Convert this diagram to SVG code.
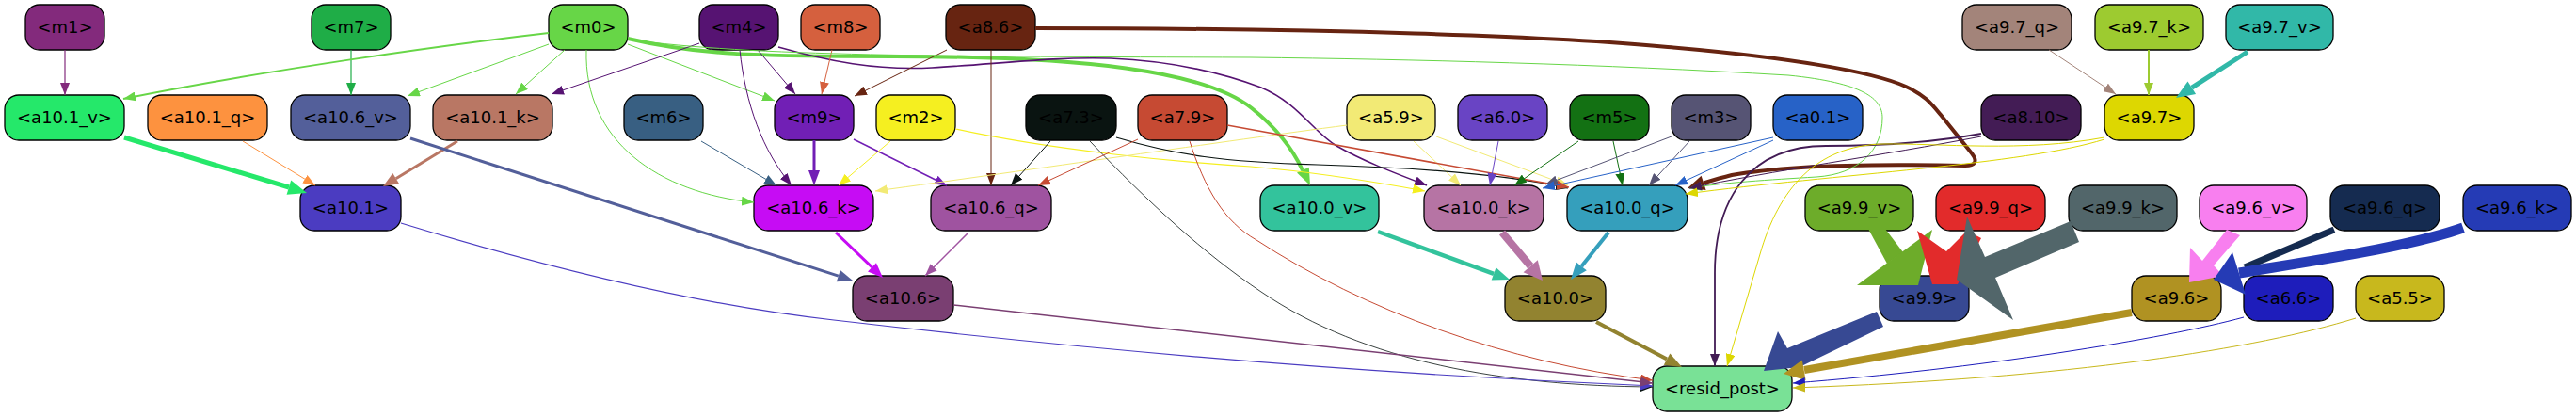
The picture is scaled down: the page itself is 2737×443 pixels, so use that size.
<svg xmlns="http://www.w3.org/2000/svg" width="2737" height="443" viewBox="0 0 2737 443">
<style>
.node rect{stroke:#000;stroke-width:1.3}
.node text{font-family:"DejaVu Sans",sans-serif;font-size:18px;text-anchor:middle;fill:#000}
.e{fill:none}
</style>
<defs>
<marker id="k1" markerUnits="userSpaceOnUse" markerWidth="13" markerHeight="10" refX="13" refY="5" orient="auto"><path d="M0,0L13,5L0,10z" fill="#832a7c"/></marker>
<marker id="k7" markerUnits="userSpaceOnUse" markerWidth="13" markerHeight="10" refX="13" refY="5" orient="auto"><path d="M0,0L13,5L0,10z" fill="#1fad47"/></marker>
<marker id="k0" markerUnits="userSpaceOnUse" markerWidth="13" markerHeight="10" refX="13" refY="5" orient="auto"><path d="M0,0L13,5L0,10z" fill="#67d647"/></marker>
<marker id="k4" markerUnits="userSpaceOnUse" markerWidth="13" markerHeight="10" refX="13" refY="5" orient="auto"><path d="M0,0L13,5L0,10z" fill="#561372"/></marker>
<marker id="k8" markerUnits="userSpaceOnUse" markerWidth="13" markerHeight="10" refX="13" refY="5" orient="auto"><path d="M0,0L13,5L0,10z" fill="#d5603e"/></marker>
<marker id="k86" markerUnits="userSpaceOnUse" markerWidth="13" markerHeight="10" refX="13" refY="5" orient="auto"><path d="M0,0L13,5L0,10z" fill="#672411"/></marker>
<marker id="k6" markerUnits="userSpaceOnUse" markerWidth="13" markerHeight="10" refX="13" refY="5" orient="auto"><path d="M0,0L13,5L0,10z" fill="#385f82"/></marker>
<marker id="k2" markerUnits="userSpaceOnUse" markerWidth="13" markerHeight="10" refX="13" refY="5" orient="auto"><path d="M0,0L13,5L0,10z" fill="#f5ef20"/></marker>
<marker id="k59" markerUnits="userSpaceOnUse" markerWidth="13" markerHeight="10" refX="13" refY="5" orient="auto"><path d="M0,0L13,5L0,10z" fill="#f2ea75"/></marker>
<marker id="k73" markerUnits="userSpaceOnUse" markerWidth="13" markerHeight="10" refX="13" refY="5" orient="auto"><path d="M0,0L13,5L0,10z" fill="#0a1411"/></marker>
<marker id="k79" markerUnits="userSpaceOnUse" markerWidth="13" markerHeight="10" refX="13" refY="5" orient="auto"><path d="M0,0L13,5L0,10z" fill="#c64a33"/></marker>
<marker id="k60" markerUnits="userSpaceOnUse" markerWidth="13" markerHeight="10" refX="13" refY="5" orient="auto"><path d="M0,0L13,5L0,10z" fill="#6944c4"/></marker>
<marker id="k5" markerUnits="userSpaceOnUse" markerWidth="13" markerHeight="10" refX="13" refY="5" orient="auto"><path d="M0,0L13,5L0,10z" fill="#137113"/></marker>
<marker id="k3" markerUnits="userSpaceOnUse" markerWidth="13" markerHeight="10" refX="13" refY="5" orient="auto"><path d="M0,0L13,5L0,10z" fill="#565474"/></marker>
<marker id="k01" markerUnits="userSpaceOnUse" markerWidth="13" markerHeight="10" refX="13" refY="5" orient="auto"><path d="M0,0L13,5L0,10z" fill="#2762c7"/></marker>
<marker id="k810" markerUnits="userSpaceOnUse" markerWidth="13" markerHeight="10" refX="13" refY="5" orient="auto"><path d="M0,0L13,5L0,10z" fill="#431c55"/></marker>
<marker id="k97" markerUnits="userSpaceOnUse" markerWidth="13" markerHeight="10" refX="13" refY="5" orient="auto"><path d="M0,0L13,5L0,10z" fill="#ddd701"/></marker>
<marker id="k97q" markerUnits="userSpaceOnUse" markerWidth="13" markerHeight="10" refX="13" refY="5" orient="auto"><path d="M0,0L13,5L0,10z" fill="#a3847a"/></marker>
<marker id="k97k" markerUnits="userSpaceOnUse" markerWidth="13" markerHeight="10" refX="13" refY="5" orient="auto"><path d="M0,0L13,5L0,10z" fill="#9dcb30"/></marker>
<marker id="k101q" markerUnits="userSpaceOnUse" markerWidth="13" markerHeight="10" refX="13" refY="5" orient="auto"><path d="M0,0L13,5L0,10z" fill="#fd923f"/></marker>
<marker id="k101" markerUnits="userSpaceOnUse" markerWidth="13" markerHeight="10" refX="13" refY="5" orient="auto"><path d="M0,0L13,5L0,10z" fill="#4b3cc1"/></marker>
<marker id="k106q" markerUnits="userSpaceOnUse" markerWidth="13" markerHeight="10" refX="13" refY="5" orient="auto"><path d="M0,0L13,5L0,10z" fill="#9f53a0"/></marker>
<marker id="k106" markerUnits="userSpaceOnUse" markerWidth="13" markerHeight="10" refX="13" refY="5" orient="auto"><path d="M0,0L13,5L0,10z" fill="#7a3f72"/></marker>
<marker id="k66" markerUnits="userSpaceOnUse" markerWidth="13" markerHeight="10" refX="13" refY="5" orient="auto"><path d="M0,0L13,5L0,10z" fill="#1e1dbb"/></marker>
<marker id="k55" markerUnits="userSpaceOnUse" markerWidth="13" markerHeight="10" refX="13" refY="5" orient="auto"><path d="M0,0L13,5L0,10z" fill="#c8b81d"/></marker>
<marker id="k9" markerUnits="userSpaceOnUse" markerWidth="13" markerHeight="10" refX="13" refY="5" orient="auto"><path d="M0,0L13,5L0,10z" fill="#711fb5"/></marker>
</defs>
<rect width="2737" height="443" fill="#fff"/>
<g id="nodes">
<g id="n-m1" class="node"><rect x="27" y="5" width="84" height="48" rx="15" fill="#832a7c"/><text x="69" y="35">&lt;m1&gt;</text></g>
<g id="n-m7" class="node"><rect x="331" y="5" width="84" height="48" rx="15" fill="#1fad47"/><text x="373" y="35">&lt;m7&gt;</text></g>
<g id="n-m0" class="node"><rect x="583" y="5" width="84" height="48" rx="15" fill="#67d647"/><text x="625" y="35">&lt;m0&gt;</text></g>
<g id="n-m4" class="node"><rect x="743" y="5" width="84" height="48" rx="15" fill="#561372"/><text x="785" y="35">&lt;m4&gt;</text></g>
<g id="n-m8" class="node"><rect x="851" y="5" width="84" height="48" rx="15" fill="#d5603e"/><text x="893" y="35">&lt;m8&gt;</text></g>
<g id="n-a8.6" class="node"><rect x="1005" y="5" width="95" height="48" rx="15" fill="#672411"/><text x="1052.5" y="35">&lt;a8.6&gt;</text></g>
<g id="n-a9.7_q" class="node"><rect x="2085" y="5" width="116" height="48" rx="15" fill="#a3847a"/><text x="2143" y="35">&lt;a9.7_q&gt;</text></g>
<g id="n-a9.7_k" class="node"><rect x="2226" y="5" width="115" height="48" rx="15" fill="#9dcb30"/><text x="2283.5" y="35">&lt;a9.7_k&gt;</text></g>
<g id="n-a9.7_v" class="node"><rect x="2365" y="5" width="114" height="48" rx="15" fill="#31b8a8"/><text x="2422" y="35">&lt;a9.7_v&gt;</text></g>

<g id="n-a10.1_v" class="node"><rect x="5" y="101" width="127" height="48" rx="15" fill="#25e86a"/><text x="68.5" y="131">&lt;a10.1_v&gt;</text></g>
<g id="n-a10.1_q" class="node"><rect x="157" y="101" width="127" height="48" rx="15" fill="#fd923f"/><text x="220.5" y="131">&lt;a10.1_q&gt;</text></g>
<g id="n-a10.6_v" class="node"><rect x="309" y="101" width="127" height="48" rx="15" fill="#535f9a"/><text x="372.5" y="131">&lt;a10.6_v&gt;</text></g>
<g id="n-a10.1_k" class="node"><rect x="460" y="101" width="127" height="48" rx="15" fill="#b97764"/><text x="523.5" y="131">&lt;a10.1_k&gt;</text></g>
<g id="n-m6" class="node"><rect x="663" y="101" width="84" height="48" rx="15" fill="#385f82"/><text x="705" y="131">&lt;m6&gt;</text></g>
<g id="n-m9" class="node"><rect x="823" y="101" width="84" height="48" rx="15" fill="#711fb5"/><text x="865" y="131">&lt;m9&gt;</text></g>
<g id="n-m2" class="node"><rect x="931" y="101" width="84" height="48" rx="15" fill="#f5ef20"/><text x="973" y="131">&lt;m2&gt;</text></g>
<g id="n-a7.3" class="node"><rect x="1090" y="101" width="96" height="48" rx="15" fill="#0a1411"/><text x="1138" y="131">&lt;a7.3&gt;</text></g>
<g id="n-a7.9" class="node"><rect x="1209" y="101" width="95" height="48" rx="15" fill="#c64a33"/><text x="1256.5" y="131">&lt;a7.9&gt;</text></g>
<g id="n-a5.9" class="node"><rect x="1431" y="101" width="94" height="48" rx="15" fill="#f2ea75"/><text x="1478" y="131">&lt;a5.9&gt;</text></g>
<g id="n-a6.0" class="node"><rect x="1549" y="101" width="95" height="48" rx="15" fill="#6944c4"/><text x="1596.5" y="131">&lt;a6.0&gt;</text></g>
<g id="n-m5" class="node"><rect x="1668" y="101" width="84" height="48" rx="15" fill="#137113"/><text x="1710" y="131">&lt;m5&gt;</text></g>
<g id="n-m3" class="node"><rect x="1776" y="101" width="84" height="48" rx="15" fill="#565474"/><text x="1818" y="131">&lt;m3&gt;</text></g>
<g id="n-a0.1" class="node"><rect x="1884" y="101" width="95" height="48" rx="15" fill="#2762c7"/><text x="1931.5" y="131">&lt;a0.1&gt;</text></g>
<g id="n-a8.10" class="node"><rect x="2105" y="101" width="106" height="48" rx="15" fill="#431c55"/><text x="2158" y="131">&lt;a8.10&gt;</text></g>
<g id="n-a9.7" class="node"><rect x="2236" y="101" width="95" height="48" rx="15" fill="#ddd701"/><text x="2283.5" y="131">&lt;a9.7&gt;</text></g>

<g id="n-a10.1" class="node"><rect x="319" y="197" width="107" height="48" rx="15" fill="#4b3cc1"/><text x="372.5" y="227">&lt;a10.1&gt;</text></g>
<g id="n-a10.6_k" class="node"><rect x="801" y="197" width="127" height="48" rx="15" fill="#c60cf4"/><text x="864.5" y="227">&lt;a10.6_k&gt;</text></g>
<g id="n-a10.6_q" class="node"><rect x="989" y="197" width="128" height="48" rx="15" fill="#9f53a0"/><text x="1053" y="227">&lt;a10.6_q&gt;</text></g>
<g id="n-a10.0_v" class="node"><rect x="1339" y="197" width="126" height="48" rx="15" fill="#33c39c"/><text x="1402" y="227">&lt;a10.0_v&gt;</text></g>
<g id="n-a10.0_k" class="node"><rect x="1513" y="197" width="127" height="48" rx="15" fill="#b674a4"/><text x="1576.5" y="227">&lt;a10.0_k&gt;</text></g>
<g id="n-a10.0_q" class="node"><rect x="1665" y="197" width="128" height="48" rx="15" fill="#359fbc"/><text x="1729" y="227">&lt;a10.0_q&gt;</text></g>
<g id="n-a9.9_v" class="node"><rect x="1918" y="197" width="115" height="48" rx="15" fill="#6dac2a"/><text x="1975.5" y="227">&lt;a9.9_v&gt;</text></g>
<g id="n-a9.9_q" class="node"><rect x="2057" y="197" width="116" height="48" rx="15" fill="#e22b2b"/><text x="2115" y="227">&lt;a9.9_q&gt;</text></g>
<g id="n-a9.9_k" class="node"><rect x="2198" y="197" width="115" height="48" rx="15" fill="#52666a"/><text x="2255.5" y="227">&lt;a9.9_k&gt;</text></g>
<g id="n-a9.6_v" class="node"><rect x="2337" y="197" width="114" height="48" rx="15" fill="#f87fef"/><text x="2394" y="227">&lt;a9.6_v&gt;</text></g>
<g id="n-a9.6_q" class="node"><rect x="2476" y="197" width="116" height="48" rx="15" fill="#152b50"/><text x="2534" y="227">&lt;a9.6_q&gt;</text></g>
<g id="n-a9.6_k" class="node"><rect x="2617" y="197" width="115" height="48" rx="15" fill="#253bb5"/><text x="2674.5" y="227">&lt;a9.6_k&gt;</text></g>

<g id="n-a10.6" class="node"><rect x="906" y="293" width="107" height="48" rx="15" fill="#7a3f72"/><text x="959.5" y="323">&lt;a10.6&gt;</text></g>
<g id="n-a10.0" class="node"><rect x="1599" y="293" width="107" height="48" rx="15" fill="#928330"/><text x="1652.5" y="323">&lt;a10.0&gt;</text></g>
<g id="n-a9.9" class="node"><rect x="1997" y="293" width="95" height="48" rx="15" fill="#374993"/><text x="2044.5" y="323">&lt;a9.9&gt;</text></g>
<g id="n-a9.6" class="node"><rect x="2265" y="293" width="95" height="48" rx="15" fill="#b09222"/><text x="2312.5" y="323">&lt;a9.6&gt;</text></g>
<g id="n-a6.6" class="node"><rect x="2384" y="293" width="95" height="48" rx="15" fill="#1e1dbb"/><text x="2431.5" y="323">&lt;a6.6&gt;</text></g>
<g id="n-a5.5" class="node"><rect x="2503" y="293" width="94" height="48" rx="15" fill="#c8b81d"/><text x="2550" y="323">&lt;a5.5&gt;</text></g>

<g id="n-resid_post" class="node"><rect x="1756" y="389" width="148" height="48" rx="15" fill="#79e196"/><text x="1830" y="419">&lt;resid_post&gt;</text></g>
</g>

<g id="edges">
<path class="e" d="M69,53L69,101" stroke="#832a7c" stroke-width="1.2" marker-end="url(#k1)"/>
<path class="e" d="M373,53L373,101" stroke="#1fad47" stroke-width="1.2" marker-end="url(#k7)"/>
<path class="e" d="M583,35C470,48 280,75 131,105" stroke="#67d647" stroke-width="2" marker-end="url(#k0)"/>
<path class="e" d="M583,47L433,102" stroke="#67d647" stroke-width="1" marker-end="url(#k0)"/>
<path class="e" d="M600,53L548,100" stroke="#67d647" stroke-width="1" marker-end="url(#k0)"/>
<path class="e" d="M667,47L823,107" stroke="#67d647" stroke-width="1" marker-end="url(#k0)"/>
<path class="e" d="M623,53C620,150 700,205 801,215" stroke="#67d647" stroke-width="1" marker-end="url(#k0)"/>
<path class="e" d="M667,41C740,58 800,60 950,60C1150,60 1280,75 1330,115C1355,135 1372,155 1384,181" stroke="#67d647" stroke-width="4"/>
<polygon points="1378,183.5 1390.8,177.7 1392,197" fill="#67d647"/>
<path class="e" d="M743,46L586,100" stroke="#561372" stroke-width="1" marker-end="url(#k4)"/>
<path class="e" d="M805,53L845,100" stroke="#561372" stroke-width="1" marker-end="url(#k4)"/>
<path class="e" d="M786,53C792,110 810,160 841,197" stroke="#561372" stroke-width="1" marker-end="url(#k4)"/>
<path class="e" d="M827,50C880,65 930,75 990,72C1060,68 1120,60 1180,62C1250,65 1300,78 1340,93C1380,110 1395,140 1420,155C1450,172 1485,185 1516,197" stroke="#561372" stroke-width="1.6" marker-end="url(#k4)"/>
<path class="e" d="M884,53L873,100" stroke="#d5603e" stroke-width="1" marker-end="url(#k8)"/>
<path class="e" d="M1006,53L908,102" stroke="#672411" stroke-width="1" marker-end="url(#k86)"/>
<path class="e" d="M1053,53L1053,197" stroke="#672411" stroke-width="1" marker-end="url(#k86)"/>
<path class="e" d="M1100,30C1400,30 1650,38 1772,50C1900,61 1990,76 2025,92C2045,101 2052,110 2062,122L2095,163C2102,172 2098,176 2088,176C2000,174 1900,175 1840,186C1828,189 1818,192 1810,194.4" stroke="#672411" stroke-width="4"/>
<polygon points="1812.6,202 1807.6,186.8 1793,200" fill="#672411"/>
<path class="e" d="M667,42C800,60 1000,60 1329,61C1500,63 1700,68 1900,80C1980,88 2000,105 2000,125C2000,160 1975,185 1930,188C1880,191 1830,194 1795,200" stroke="#67d647" stroke-width="1" marker-end="url(#k0)"/>
<path class="e" d="M865,149L865,181" stroke="#711fb5" stroke-width="3"/>
<polygon points="859,181 871,181 865,197" fill="#711fb5"/>
<path class="e" d="M907,148L1006,197" stroke="#711fb5" stroke-width="1.5" marker-end="url(#k9)"/>
<path class="e" d="M946,150L891,197" stroke="#f5ef20" stroke-width="1" marker-end="url(#k2)"/>
<path class="e" d="M1015,137C1120,160 1250,172 1329,177C1400,183 1460,193 1514,203" stroke="#f5ef20" stroke-width="1.2" marker-end="url(#k2)"/>
<path class="e" d="M1431,133C1300,150 1100,180 930,203" stroke="#f2ea75" stroke-width="1" marker-end="url(#k59)"/>
<path class="e" d="M1502,150L1552,197" stroke="#f2ea75" stroke-width="1" marker-end="url(#k59)"/>
<path class="e" d="M1526,145L1666,197" stroke="#f2ea75" stroke-width="1" marker-end="url(#k59)"/>
<path class="e" d="M1116,150L1074,197" stroke="#0a1411" stroke-width="1" marker-end="url(#k73)"/>
<path class="e" d="M1158,150C1220,215 1280,270 1340,310C1450,385 1600,410 1756,411" stroke="#0a1411" stroke-width="0.8" marker-end="url(#k73)"/>
<path class="e" d="M1186,146C1250,165 1300,172 1400,175C1500,178 1600,185 1666,200" stroke="#0a1411" stroke-width="1.2" marker-end="url(#k73)"/>
<path class="e" d="M1209,148L1103,197" stroke="#c64a33" stroke-width="1" marker-end="url(#k79)"/>
<path class="e" d="M1264,150C1280,200 1300,235 1335,255C1450,330 1600,385 1756,404" stroke="#c64a33" stroke-width="1" marker-end="url(#k79)"/>
<path class="e" d="M1304,133L1667,199" stroke="#c64a33" stroke-width="1.5" marker-end="url(#k79)"/>
<path class="e" d="M1592,150L1583,197" stroke="#6944c4" stroke-width="1" marker-end="url(#k60)"/>
<path class="e" d="M1677,150L1609,197" stroke="#137113" stroke-width="1" marker-end="url(#k5)"/>
<path class="e" d="M1714,150L1724,197" stroke="#137113" stroke-width="1" marker-end="url(#k5)"/>
<path class="e" d="M1776,145L1642,196" stroke="#565474" stroke-width="1" marker-end="url(#k3)"/>
<path class="e" d="M1795,150L1752,197" stroke="#565474" stroke-width="1" marker-end="url(#k3)"/>
<path class="e" d="M1884,146L1639,200" stroke="#2762c7" stroke-width="1" marker-end="url(#k01)"/>
<path class="e" d="M1884,149L1780,197" stroke="#2762c7" stroke-width="1" marker-end="url(#k01)"/>
<path class="e" d="M2105,142C2050,152 2000,155 1940,155C1860,155 1822,210 1822,290L1822,389" stroke="#431c55" stroke-width="1.8" marker-end="url(#k810)"/>
<path class="e" d="M2105,145C2000,165 1880,182 1795,200" stroke="#431c55" stroke-width="1" marker-end="url(#k810)"/>
<path class="e" d="M2236,146C2150,162 2060,152 2000,153C1930,155 1890,200 1870,270L1835,389" stroke="#ddd701" stroke-width="1" marker-end="url(#k97)"/>
<path class="e" d="M2236,148C2150,175 1950,185 1791,206" stroke="#ddd701" stroke-width="1" marker-end="url(#k97)"/>
<path class="e" d="M2177,53L2248,100" stroke="#a3847a" stroke-width="1" marker-end="url(#k97q)"/>
<path class="e" d="M2283,53L2283,101" stroke="#9dcb30" stroke-width="2" marker-end="url(#k97k)"/>
<path class="e" d="M2388,55L2328.8,93.2" stroke="#31b8a8" stroke-width="5"/>
<polygon points="2333.1,99.9 2324.5,86.5 2312,104" fill="#31b8a8"/>
<path class="e" d="M132,146L307,199" stroke="#25e86a" stroke-width="5"/>
<polygon points="304.6,206.8 309.2,191.6 326,205" fill="#25e86a"/>
<path class="e" d="M258,150L335,197" stroke="#fd923f" stroke-width="1" marker-end="url(#k101q)"/>
<path class="e" d="M486,150L420.7,189.7" stroke="#b97764" stroke-width="3"/>
<polygon points="424.1,195.3 417.3,184.1 407,198" fill="#b97764"/>
<path class="e" d="M436,147L890.8,293.1" stroke="#535f9a" stroke-width="3"/>
<polygon points="888.8,299.3 892.8,286.9 906,298" fill="#535f9a"/>
<path class="e" d="M745,150L825,197" stroke="#385f82" stroke-width="1" marker-end="url(#k6)"/>
<path class="e" d="M426,237C600,290 750,325 886,340C1100,365 1400,395 1756,410" stroke="#4b3cc1" stroke-width="1.2" marker-end="url(#k101)"/>
<path class="e" d="M888,247L926.5,283.9" stroke="#c60cf4" stroke-width="3"/>
<polygon points="922,288.6 931,279.2 938,295" fill="#c60cf4"/>
<path class="e" d="M1029,247L983,293" stroke="#9f53a0" stroke-width="1.5" marker-end="url(#k106q)"/>
<path class="e" d="M1013,324C1300,356 1600,390 1756,407" stroke="#7a3f72" stroke-width="1.5" marker-end="url(#k106)"/>
<path class="e" d="M1464,246L1587.1,290.8" stroke="#33c39c" stroke-width="4.5"/>
<polygon points="1584.7,297.4 1589.5,284.2 1604,297" fill="#33c39c"/>
<path class="e" d="M1596,247L1626.1,282.7" stroke="#b674a4" stroke-width="8"/>
<polygon points="1618.5,289.2 1633.8,276.3 1639,298" fill="#b674a4"/>
<path class="e" d="M1709,247L1680.3,282.9" stroke="#359fbc" stroke-width="4"/>
<polygon points="1685.8,287.3 1674.8,278.5 1669,297" fill="#359fbc"/>
<path class="e" d="M1696,342L1771.1,381.6" stroke="#928330" stroke-width="4"/>
<polygon points="1767.8,387.8 1774.4,375.4 1787,390" fill="#928330"/>
<polygon points="1985,243 2003,243 2022,268 2005,280" fill="#6dac2a"/>
<polygon points="1973,303 2053,244 2038,303" fill="#6dac2a"/>
<polygon points="2037,245 2068,267 2090,245 2105,253 2080,302 2053,302" fill="#e22b2b"/>
<polygon points="2090,230 2109,273 2200,235 2209,257 2120,295 2139,340 2079,297" fill="#52666a"/>
<polygon points="1994,331 2001,347 1912,390 1874,394 1889,352 1899,370" fill="#374993"/>
<path class="e" d="M2265,332L1917,393" stroke="#b09222" stroke-width="8"/>
<polygon points="1918.6,404 1914.8,382.4 1895,397" fill="#b09222"/>
<path class="e" d="M2384,337C2300,360 2100,392 1905,407" stroke="#1e1dbb" stroke-width="1" marker-end="url(#k66)"/>
<path class="e" d="M2503,338C2400,370 2200,402 1905,412" stroke="#c8b81d" stroke-width="1" marker-end="url(#k55)"/>
<polygon points="2366,244 2380,250 2352,282 2362,293 2326,300 2327,263 2340,277" fill="#f87fef"/>
<path class="e" d="M2480,244L2385,284" stroke="#152b50" stroke-width="7"/>
<path class="e" d="M2617,242C2560,262 2470,275 2379,290" stroke="#253bb5" stroke-width="11"/>
<polygon points="2372,268 2386,313 2352,297" fill="#253bb5"/>
</g>
</svg>
